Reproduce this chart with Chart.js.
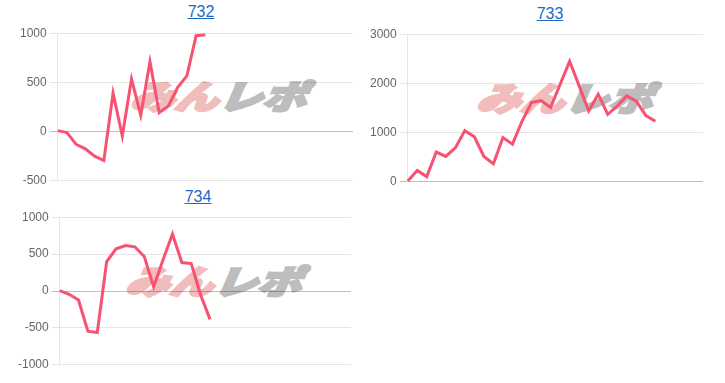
<!DOCTYPE html>
<html>
<head>
<meta charset="utf-8">
<script src="https://cdn.jsdelivr.net/npm/chart.js"></script>
<style>
  body { margin: 0; background: #fff; width: 725px; height: 383px; overflow: hidden; position: relative; font-family: Arial, "Liberation Sans", sans-serif; }
  .title { position: absolute; width: 200px; text-align: center; font-size: 16px; }
  .title a { color: #1b6ac4; text-decoration: underline; }
  .box { position: absolute; width: 336px; height: 168px; }
  .mark { position: absolute; font-family: "Noto Sans CJK JP", sans-serif; font-weight: 900; font-style: italic;
          font-size: 33px; line-height: 33px; white-space: nowrap; transform-origin: left top;
          transform: skewX(-6deg) scaleX(1.33); }
  .mark .a { color: #f0bcbc; -webkit-text-stroke: 2.5px #f0bcbc; }
  .mark .b { color: #bdbdbd; -webkit-text-stroke: 2.5px #bdbdbd; }
</style>
</head>
<body>

<div class="mark" style="left:133px; top:79px;"><span class="a">みん</span><span class="b">レポ</span></div>
<div class="mark" style="left:479px; top:81px;"><span class="a">みん</span><span class="b">レポ</span></div>
<div class="mark" style="left:128px; top:264px;"><span class="a">みん</span><span class="b">レポ</span></div>

<div class="title" style="left:101px; top:3px;"><a href="#">732</a></div>
<div class="title" style="left:450px; top:5px;"><a href="#">733</a></div>
<div class="title" style="left:98px; top:188px;"><a href="#">734</a></div>

<div class="box" style="left:17px; top:23px;"><canvas id="c732"></canvas></div>
<div class="box" style="left:367px; top:24px;"><canvas id="c733"></canvas></div>
<div class="box" style="left:15px; top:207px;"><canvas id="c734"></canvas></div>

<script>
const labels732 = ['1', '2', '3', '4', '5', '6', '7', '8', '9', '10', '11', '12', '13', '14', '15', '16',
    '17', '18', '19', '20', '21', '22', '23', '24', '25', '26', '27', '28', '29', '30', '31', '32', '33'];
const labels733 = ['1', '2', '3', '4', '5', '6', '7', '8', '9', '10', '11', '12', '13', '14', '15', '16',
    '17', '18', '19', '20', '21', '22', '23', '24', '25', '26', '27', '28', '29', '30', '31', '32'];
const labels734 = ['1', '2', '3', '4', '5', '6', '7', '8', '9', '10', '11', '12', '13', '14', '15', '16',
    '17', '18', '19', '20', '21', '22', '23', '24', '25', '26', '27', '28', '29', '30', '31', '32'];

const values732 = [10, -10, -130, -175, -250, -295, 390, -45, 535, 165, 710, 192, 260, 450, 566, 975, 985];
const values733 = [15, 230, 105, 605, 515, 690, 1040, 915, 515, 365, 900, 765, 1230, 1610, 1650, 1510,
    1980, 2450, 1950, 1440, 1780, 1370, 1540, 1745, 1640, 1345, 1230];
const values734 = [5, -45, -122, -545, -562, 400, 571, 617, 599, 467, 59, 422, 771, 385, 371, -54, -385];

const ticks732 = { min: -500, max: 1000, step: 500 };
const ticks733 = { min: 0, max: 3000, step: 1000 };
const ticks734 = { min: -1000, max: 1000, step: 500 };

Chart.defaults.font.family = "Arial, 'Liberation Sans', sans-serif";
Chart.defaults.font.size = 12;
Chart.defaults.color = '#666';

function makeChart(id, labels, values, t) {
    const ctx = document.querySelector(id).getContext('2d');
    return new Chart(ctx, {
        type: 'line',
        data: {
            labels: labels,
            datasets: [
                {
                    data: values,
                    borderColor: 'rgb(248, 82, 112)',
                    borderWidth: 3,
                    pointRadius: 0,
                    fill: false,
                    tension: 0
                }
            ]
        },
        options: {
            responsive: true,
            maintainAspectRatio: false,
            animation: false,
            plugins: { legend: { display: false }, tooltip: { enabled: false } },
            scales: {
                x: {
                    grid: { display: false },
                    border: { display: false },
                    ticks: { display: false }
                },
                y: {
                    min: t.min,
                    max: t.max,
                    ticks: { stepSize: t.step, padding: 3, callback: (v) => String(v) },
                    grid: {
                        color: (c) => c.tick && c.tick.value === 0 ? 'rgba(0,0,0,0.25)' : 'rgba(0,0,0,0.1)'
                    },
                    border: { color: 'rgba(0,0,0,0.1)' }
                }
            }
        }
    })
}

makeChart('#c732', labels732, values732, ticks732);
makeChart('#c733', labels733, values733, ticks733);
makeChart('#c734', labels734, values734, ticks734);
</script>
</body>
</html>
